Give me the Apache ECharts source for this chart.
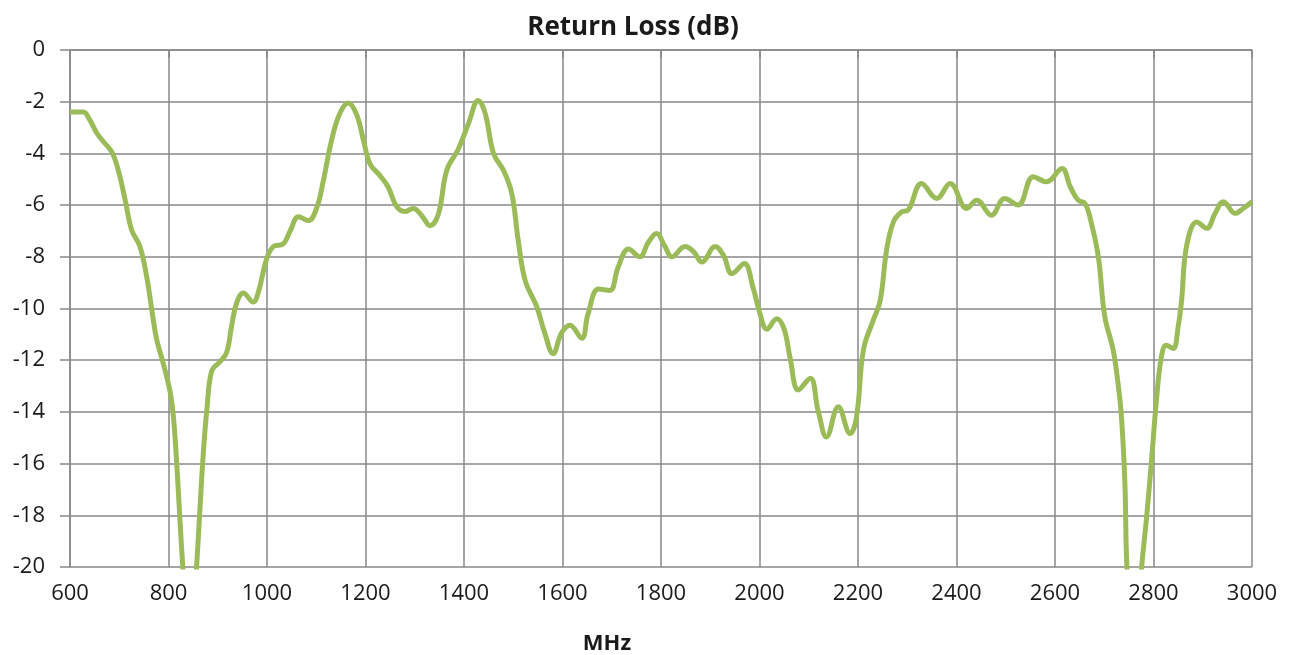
<!DOCTYPE html>
<html>
<head>
<meta charset="utf-8">
<script src="https://cdn.jsdelivr.net/npm/echarts@6/dist/echarts.min.js"></script>
<style>
html,body{margin:0;padding:0;background:#fff;}
#chart{width:1293px;height:655px;}
</style>
</head>
<body>
<div id="chart"></div>
<script>
const chartTitle = 'Return Loss (dB)';
const xAxisName = 'MHz';
const freqMHz = [600,627,640,654,668,685,698,712,725,742,756,768,776,789,803,810,817,823,829,843,857,864,871,878,888,905,918,928,938,952,972,982,999,1013,1033,1047,1064,1084,1101,1115,1131,1148,1165,1182,1196,1209,1229,1246,1263,1280,1297,1314,1331,1348,1365,1388,1409,1429,1443,1460,1480,1497,1510,1524,1548,1564,1581,1598,1615,1639,1652,1673,1696,1713,1734,1757,1774,1791,1808,1822,1849,1866,1883,1910,1927,1944,1969,1987,2001,2015,2035,2050,2062,2079,2103,2119,2136,2160,2184,2197,2211,2231,2245,2258,2272,2289,2302,2329,2360,2387,2421,2441,2471,2498,2525,2556,2583,2614,2631,2647,2661,2674,2688,2701,2718,2728,2735,2742,2746,2760,2776,2786,2796,2806,2816,2826,2840,2850,2857,2867,2888,2908,2925,2942,2966,2982,3000];
const returnLossDb = [-2.4,-2.4,-2.7,-3.2,-3.55,-3.95,-4.65,-5.8,-6.95,-7.6,-8.8,-10.3,-11.2,-12.1,-13.2,-14.2,-16.1,-18.1,-20,-24,-20,-17.7,-15.5,-13.9,-12.4,-12.05,-11.7,-10.7,-9.8,-9.4,-9.75,-9.4,-8.1,-7.6,-7.5,-7.0,-6.45,-6.6,-6.1,-5.0,-3.5,-2.45,-2.05,-2.5,-3.5,-4.4,-4.85,-5.3,-6.05,-6.25,-6.13,-6.4,-6.8,-6.35,-4.65,-3.85,-2.85,-1.95,-2.45,-4.0,-4.65,-5.55,-7.35,-8.9,-9.95,-10.95,-11.75,-10.95,-10.65,-11.15,-10.2,-9.25,-9.3,-8.4,-7.7,-8.0,-7.45,-7.1,-7.6,-8.0,-7.6,-7.8,-8.2,-7.6,-7.95,-8.65,-8.26,-9.2,-10.2,-10.8,-10.4,-10.8,-11.9,-13.15,-12.7,-13.95,-14.97,-13.8,-14.84,-14.2,-11.6,-10.45,-9.7,-7.75,-6.65,-6.26,-6.19,-5.16,-5.74,-5.16,-6.13,-5.81,-6.39,-5.74,-6.0,-4.9,-5.1,-4.58,-5.29,-5.81,-5.94,-6.71,-8.0,-10.3,-11.6,-12.9,-14.2,-16.8,-20,-24,-20,-18.07,-15.87,-13.55,-11.87,-11.42,-11.55,-10.71,-9.7,-7.6,-6.65,-6.9,-6.32,-5.87,-6.32,-6.13,-5.87];
const xTicks = {min: 600, max: 3000, step: 200};
const yTicks = {min: -20, max: 0, step: 2};

const seriesData = freqMHz.map((f, i) => [f, returnLossDb[i]]);
const fontFam = '"Open Sans", Lato, sans-serif';
const gridColor = '#888888';
const textColor = '#1a1a1a';

const chart = echarts.init(document.getElementById('chart'));
chart.setOption({
  animation: false,
  backgroundColor: '#ffffff',
  title: {
    text: chartTitle,
    left: 628,
    top: 10,
    textAlign: 'center',
    textStyle: {fontFamily: fontFam, fontWeight: 'bold', fontSize: 26, color: textColor}
  },
  grid: {left: 70, right: 41, top: 50, bottom: 88, containLabel: false, outerBoundsMode: 'none'},
  xAxis: {
    type: 'value',
    min: xTicks.min, max: xTicks.max, interval: xTicks.step,
    name: xAxisName,
    nameLocation: 'middle',
    nameGap: 66,
    nameTextStyle: {fontFamily: fontFam, fontWeight: 'bold', fontSize: 22, color: textColor, padding: [0, 108, 0, 0]},
    axisLine: {show: true, lineStyle: {color: gridColor, width: 1.5}},
    axisTick: {show: true, length: 8, lineStyle: {color: gridColor, width: 1.5}},
    splitLine: {show: true, lineStyle: {color: gridColor, width: 1.5}},
    axisLabel: {fontFamily: fontFam, fontSize: 22, color: textColor, margin: 16, formatter: v => String(v)}
  },
  yAxis: {
    type: 'value',
    min: yTicks.min, max: yTicks.max, interval: yTicks.step,
    axisLine: {show: true, lineStyle: {color: gridColor, width: 1.5}},
    axisTick: {show: true, length: 10, lineStyle: {color: gridColor, width: 1.5}},
    splitLine: {show: true, lineStyle: {color: gridColor, width: 1.5}},
    axisLabel: {fontFamily: fontFam, fontSize: 22, color: textColor, margin: 25, formatter: v => String(v)}
  },
  series: [{
    type: 'line',
    data: seriesData,
    showSymbol: false,
    smooth: 0.4,
    clip: true,
    lineStyle: {color: '#9BBB59', width: 5},
    itemStyle: {color: '#9BBB59'}
  }]
});
</script>
</body>
</html>
